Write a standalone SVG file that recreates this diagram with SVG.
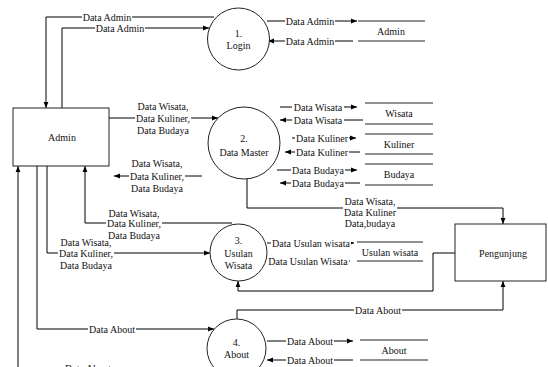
<svg xmlns="http://www.w3.org/2000/svg" width="548" height="367" viewBox="0 0 548 367" font-family="'Liberation Serif', 'Times New Roman', serif">
<defs>
<marker id="ah" viewBox="0 0 10 10" refX="10" refY="5" markerWidth="6" markerHeight="6" markerUnits="userSpaceOnUse" orient="auto">
<path d="M0,1 L10,5 L0,9 z" fill="#000"/>
</marker>
<style>
text{font-family:'Liberation Serif','Times New Roman',serif;font-size:10px;fill:#111;text-anchor:middle}
.c{fill:none;stroke:#000;stroke-width:1}
.a{marker-end:url(#ah)}
.m{fill:#fff;stroke:none}
.n{fill:#fff;stroke:#222;stroke-width:1}
.s{stroke:#222;stroke-width:1}
</style>
</defs>
<rect width="548" height="367" fill="#fff"/>

<g id="connectors">
<path class="c a" d="M214,17 H46 V108"/>
<path class="c a" d="M62,108 V28 H209"/>
<path class="c a" d="M267,21 H357"/>
<path class="c a" d="M353,41 H268"/>
<path class="c a" d="M109,118 H218"/>
<path class="c a" d="M202,176 H114"/>
<path class="c a" d="M280,107 H357"/>
<path class="c a" d="M363,120 H280"/>
<path class="c a" d="M292,138 H356"/>
<path class="c a" d="M360,152 H285"/>
<path class="c a" d="M277,170 H357"/>
<path class="c a" d="M360,183 H280"/>
<path class="c a" d="M247,179 V208 H503 V224"/>
<path class="c a" d="M232,223 H85 V166"/>
<path class="c a" d="M47,166 V253 H210"/>
<path class="c a" d="M267,243 H354"/>
<path class="c a" d="M350,261 H267"/>
<path class="c a" d="M455,253 H433 V291 H238 V281"/>
<path class="c a" d="M37,166 V329 H214"/>
<path class="c a" d="M237,319 V310 H503 V281"/>
<path class="c a" d="M267,341 H353"/>
<path class="c a" d="M353,360 H267"/>
<path class="c a" d="M18,367 V166"/>

<rect class="m" x="82" y="12" width="50" height="10"/>
<rect class="m" x="95" y="23" width="50" height="10"/>
<rect class="m" x="285" y="16" width="50" height="10"/>
<rect class="m" x="285" y="36" width="50" height="10"/>
<rect class="m" x="135" y="113" width="56" height="10"/>
<rect class="m" x="129" y="171" width="56" height="10"/>
<rect class="m" x="292" y="102" width="52" height="10"/>
<rect class="m" x="292" y="115" width="52" height="10"/>
<rect class="m" x="295" y="133" width="54" height="10"/>
<rect class="m" x="295" y="147" width="54" height="10"/>
<rect class="m" x="291" y="165" width="54" height="10"/>
<rect class="m" x="291" y="178" width="54" height="10"/>
<rect class="m" x="343" y="207" width="54" height="10"/>
<rect class="m" x="106" y="218" width="56" height="10"/>
<rect class="m" x="58" y="248" width="56" height="10"/>
<rect class="m" x="271" y="238" width="80" height="10"/>
<rect class="m" x="267" y="256" width="82" height="10"/>
<rect class="m" x="88" y="324" width="48" height="10"/>
<rect class="m" x="354" y="305" width="48" height="10"/>
<rect class="m" x="286" y="336" width="48" height="10"/>
<rect class="m" x="286" y="355" width="48" height="10"/>

<text x="107" y="20.5">Data Admin</text>
<text x="120" y="31.5">Data Admin</text>
<text x="310" y="24.5">Data Admin</text>
<text x="310" y="44.5">Data Admin</text>

<text x="163" y="109.5">Data Wisata,</text>
<text x="163" y="121.5">Data Kuliner,</text>
<text x="163" y="133.5">Data Budaya</text>

<text x="157" y="166.5">Data Wisata,</text>
<text x="157" y="179.5">Data Kuliner,</text>
<text x="157" y="191.5">Data Budaya</text>

<text x="318" y="110.5">Data Wisata</text>
<text x="318" y="123.5">Data Wisata</text>
<text x="322" y="141.5">Data Kuliner</text>
<text x="322" y="155.5">Data Kuliner</text>
<text x="318" y="173.5">Data Budaya</text>
<text x="318" y="186.5">Data Budaya</text>

<text x="370" y="204.5">Data Wisata,</text>
<text x="370" y="215.5">Data Kuliner</text>
<text x="370" y="226.5">Data,budaya</text>

<text x="134" y="216.5">Data Wisata,</text>
<text x="134" y="226.5">Data Kuliner,</text>
<text x="134" y="238.5">Data Budaya</text>

<text x="86" y="245.5">Data Wisata,</text>
<text x="86" y="256.5">Data Kuliner,</text>
<text x="86" y="268.5">Data Budaya</text>

<text x="311" y="246.5">Data Usulan wisata</text>
<text x="308" y="264.5">Data Usulan Wisata</text>

<text x="112" y="332.5">Data About</text>
<text x="378" y="313.5">Data About</text>
<text x="310" y="344.5">Data About</text>
<text x="310" y="363.5">Data About</text>
<text x="88" y="372">Data About</text>
</g>

<g id="admin">
<rect class="n" x="13" y="108" width="96" height="58"/>
<text x="62" y="140.5">Admin</text>
</g>

<g id="pengunjung">
<rect class="n" x="455" y="224" width="91" height="57"/>
<text x="503" y="256.5">Pengunjung</text>
</g>

<g id="p1-login">
<circle class="n" cx="238.5" cy="39" r="31"/>
<text x="238.5" y="36.5">1.</text>
<text x="238.5" y="48.5">Login</text>
</g>

<g id="p2-data-master">
<circle class="n" cx="244" cy="143" r="36"/>
<text x="244" y="141.5">2.</text>
<text x="244" y="156">Data Master</text>
</g>

<g id="p3-usulan-wisata">
<circle class="n" cx="238.5" cy="252.5" r="28.5"/>
<text x="238.5" y="243.5">3.</text>
<text x="238.5" y="256.5">Usulan</text>
<text x="238.5" y="268.5">Wisata</text>
</g>

<g id="p4-about">
<circle class="n" cx="236.5" cy="348.5" r="29.5"/>
<text x="236.5" y="346">4.</text>
<text x="236.5" y="358">About</text>
</g>

<g id="store-admin">
<line class="s" x1="358" y1="21" x2="425" y2="21"/>
<line class="s" x1="358" y1="41" x2="425" y2="41"/>
<text x="391" y="34.5">Admin</text>
</g>

<g id="store-wisata">
<line class="s" x1="365" y1="103" x2="433" y2="103"/>
<line class="s" x1="365" y1="124" x2="433" y2="124"/>
<text x="399" y="116.5">Wisata</text>
</g>

<g id="store-kuliner">
<line class="s" x1="365" y1="134" x2="433" y2="134"/>
<line class="s" x1="365" y1="154" x2="433" y2="154"/>
<text x="399" y="147.5">Kuliner</text>
</g>

<g id="store-budaya">
<line class="s" x1="365" y1="164" x2="433" y2="164"/>
<line class="s" x1="365" y1="185" x2="433" y2="185"/>
<text x="399" y="177.5">Budaya</text>
</g>

<g id="store-usulan">
<line class="s" x1="357" y1="242" x2="423" y2="242"/>
<line class="s" x1="357" y1="261" x2="423" y2="261"/>
<text x="390" y="255.5">Usulan wisata</text>
</g>

<g id="store-about">
<line class="s" x1="360" y1="340" x2="428" y2="340"/>
<line class="s" x1="360" y1="360" x2="428" y2="360"/>
<text x="394" y="353.5">About</text>
</g>
</svg>
